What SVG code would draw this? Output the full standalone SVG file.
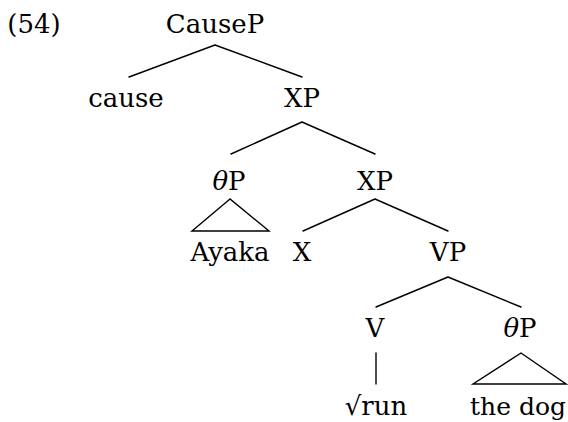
<svg xmlns="http://www.w3.org/2000/svg" width="568" height="422" viewBox="0 0 568 422">
<style>
.t{font-size:26px;fill:#000;text-anchor:middle}
.e{stroke:#000;stroke-width:1.4;fill:none;stroke-linecap:round;stroke-linejoin:miter}
</style>
<rect width="568" height="422" fill="#fff"/>
<g font-family="DejaVu Serif, serif" class="t">
<text x="34" y="33">(54)</text>
<g id="connectors">
<path class="e" d="M215 45L129 77M215 45L302 77"/>
<path class="e" d="M302 122L231 154M302 122L375 154"/>
<path class="e" d="M230 199L192 231L269 231Z"/>
<path class="e" d="M375 199L303 231M375 199L448 231"/>
<path class="e" d="M448 277L376 307M448 277L521 307"/>
<path class="e" d="M376 353L376 384"/>
<path class="e" d="M521 353L473 384L566 384Z"/>
</g>
<g id="causeP"><text x="215" y="33">CauseP</text></g>
<g id="cause"><text x="126" y="107">cause</text></g>
<g id="xp1"><text x="302" y="107">XP</text></g>
<g id="thetaP1"><text x="229" y="190"><tspan font-style="italic">θ</tspan>P</text></g>
<g id="xp2"><text x="375" y="190">XP</text></g>
<g id="ayaka"><text x="230" y="261">Ayaka</text></g>
<g id="x"><text x="302" y="261">X</text></g>
<g id="vp"><text x="448" y="261">VP</text></g>
<g id="v"><text x="375" y="337">V</text></g>
<g id="thetaP2"><text x="520" y="337"><tspan font-style="italic">θ</tspan>P</text></g>
<g id="run"><text x="376" y="415">√run</text></g>
<g id="thedog"><text x="518" y="415" font-size="25">the dog</text></g>
</g>
</svg>
